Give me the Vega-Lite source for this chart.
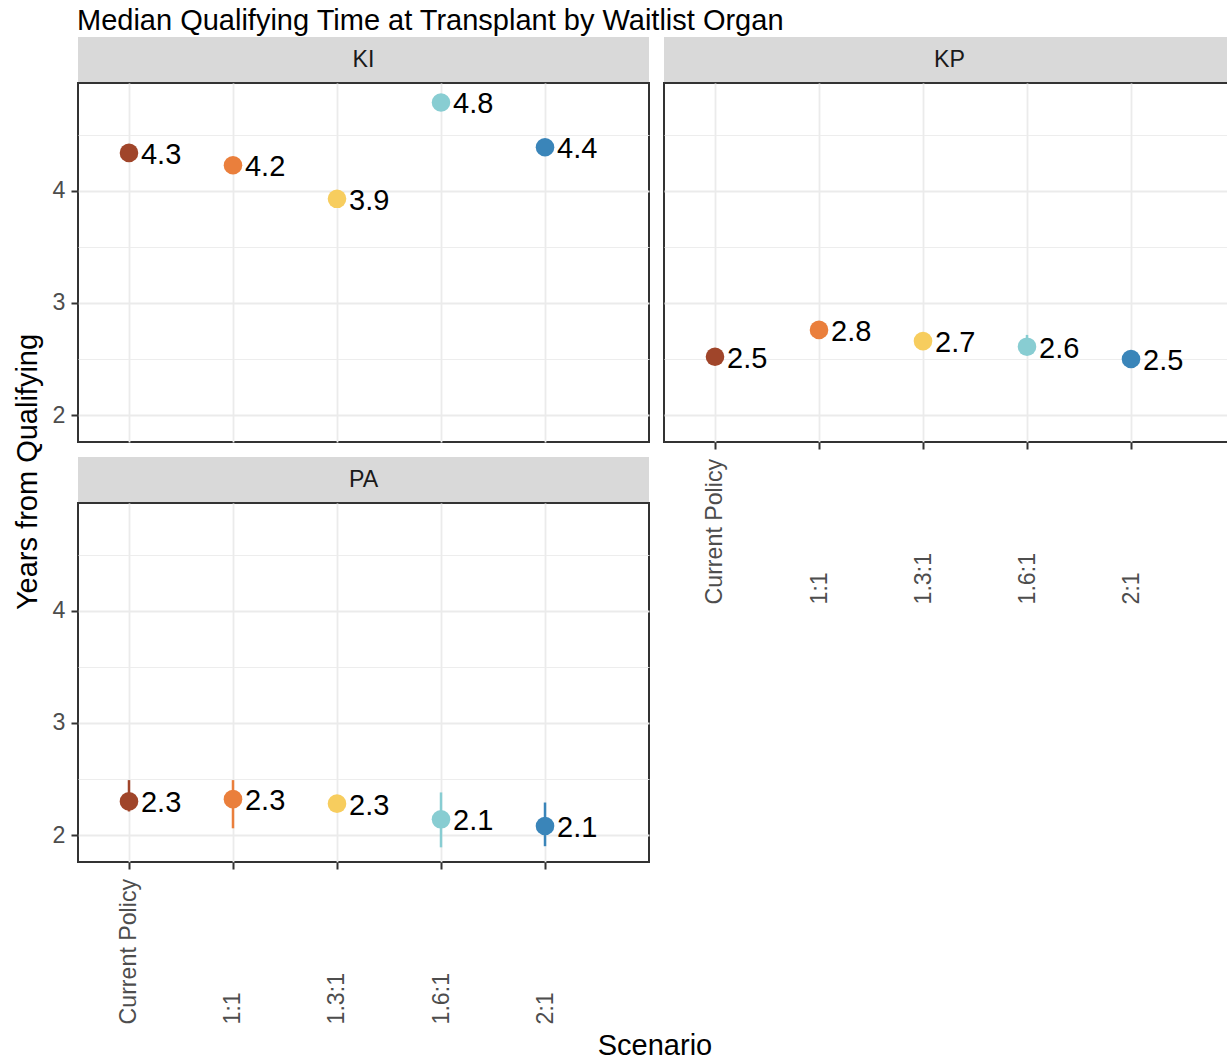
{
  "$schema": "https://vega.github.io/schema/vega-lite/v6.json",
  "background": "white",
  "padding": {"left": 13, "top": 7, "right": 0, "bottom": 0},
  "title": {"text": "Median Qualifying Time at Transplant by Waitlist Organ", "anchor": "start", "frame": "bounds", "dx": 64, "fontSize": 29, "font": "Liberation Sans", "fontWeight": "normal", "color": "black", "offset": 1},
  "datasets": {
    "points": [
      {"organ": "KI", "scenario": "Current Policy", "median": 4.34, "lower": 4.31, "upper": 4.37},
      {"organ": "KI", "scenario": "1:1", "median": 4.23, "lower": 4.20, "upper": 4.26},
      {"organ": "KI", "scenario": "1.3:1", "median": 3.93, "lower": 3.90, "upper": 3.96},
      {"organ": "KI", "scenario": "1.6:1", "median": 4.79, "lower": 4.76, "upper": 4.82},
      {"organ": "KI", "scenario": "2:1", "median": 4.39, "lower": 4.36, "upper": 4.42},
      {"organ": "KP", "scenario": "Current Policy", "median": 2.52, "lower": 2.48, "upper": 2.56},
      {"organ": "KP", "scenario": "1:1", "median": 2.76, "lower": 2.72, "upper": 2.80},
      {"organ": "KP", "scenario": "1.3:1", "median": 2.66, "lower": 2.62, "upper": 2.70},
      {"organ": "KP", "scenario": "1.6:1", "median": 2.61, "lower": 2.55, "upper": 2.715},
      {"organ": "KP", "scenario": "2:1", "median": 2.50, "lower": 2.46, "upper": 2.54},
      {"organ": "PA", "scenario": "Current Policy", "median": 2.30, "lower": 2.21, "upper": 2.49},
      {"organ": "PA", "scenario": "1:1", "median": 2.32, "lower": 2.06, "upper": 2.49},
      {"organ": "PA", "scenario": "1.3:1", "median": 2.28, "lower": 2.22, "upper": 2.34},
      {"organ": "PA", "scenario": "1.6:1", "median": 2.14, "lower": 1.89, "upper": 2.38},
      {"organ": "PA", "scenario": "2:1", "median": 2.08, "lower": 1.90, "upper": 2.29}
    ]
  },
  "concat": [
    {
      "width": 30, "height": 870,
      "data": {"values": [{"t": "Years from Qualifying"}]},
      "view": {"stroke": null},
      "mark": {"type": "text", "angle": 270, "fontSize": 29, "color": "black", "font": "Liberation Sans"},
      "encoding": {"text": {"field": "t", "type": "nominal"}}
    },
    {
      "concat": [
        {
          "concat": [
            {
              "concat": [
                {
                  "concat": [
                    {
                      "width": 571, "height": 45,
                      "data": {"values": [{"organ": "KI"}]},
                      "view": {"fill": "#D9D9D9"},
                      "mark": {"type": "text", "fontSize": 23.2, "color": "#1A1A1A", "font": "Liberation Sans"},
                      "encoding": {"text": {"field": "organ", "type": "nominal"}}
                    },
                    {
                      "width": 571, "height": 359,
                      "data": {"name": "points"},
                      "transform": [{"filter": "datum.organ === 'KI'"}],
                      "encoding": {
                        "x": {"field": "scenario", "type": "nominal",
                          "scale": {"type": "point", "domain": ["Current Policy", "1:1", "1.3:1", "1.6:1", "2:1"], "padding": 0.745, "align": 0.329},
                          "axis": {"title": null, "labels": false, "ticks": false, "grid": true}},
                        "color": {"field": "scenario", "type": "nominal",
                          "scale": {"domain": ["Current Policy", "1:1", "1.3:1", "1.6:1", "2:1"], "range": ["#A0452A", "#EA7F3C", "#F7CD5E", "#88CDD2", "#3A85B9"]},
                          "legend": null}
                      },
                      "layer": [
                        {"mark": {"type": "rule", "strokeWidth": 2.5},
                          "encoding": {
                            "y": {"field": "lower", "type": "quantitative",
                              "scale": {"domain": [1.759, 4.964], "nice": false, "zero": false},
                              "axis": {"title": null, "values": [2, 2.5, 3, 3.5, 4, 4.5],
                                "labelExpr": "datum.value % 1 === 0 ? format(datum.value, 'd') : ''",
                                "tickOpacity": {"condition": {"test": "datum.value % 1 !== 0", "value": 0}, "value": 1},
                                "gridWidth": {"condition": {"test": "datum.value % 1 !== 0", "value": 0.9}, "value": 1.8},
                                "labelPadding": 6}},
                            "y2": {"field": "upper"}}},
                        {"mark": {"type": "circle", "size": 346, "opacity": 1},
                          "encoding": {"y": {"field": "median", "type": "quantitative"}}},
                        {"mark": {"type": "text", "align": "left", "baseline": "middle", "dx": 12, "dy": 2, "fontSize": 29, "font": "Liberation Sans", "color": "black"},
                          "encoding": {"y": {"field": "median", "type": "quantitative"},
                            "text": {"field": "median", "type": "quantitative", "format": ".1f"},
                            "color": {"value": "black"}}}
                      ]
                    }
                  ],
                  "columns": 1, "spacing": 0, "align": {"column": "each", "row": "none"}
                },
                {
                  "concat": [
                    {
                      "width": 571, "height": 45,
                      "data": {"values": [{"organ": "PA"}]},
                      "view": {"fill": "#D9D9D9"},
                      "mark": {"type": "text", "fontSize": 23.2, "color": "#1A1A1A", "font": "Liberation Sans"},
                      "encoding": {"text": {"field": "organ", "type": "nominal"}}
                    },
                    {
                      "width": 571, "height": 359,
                      "data": {"name": "points"},
                      "transform": [{"filter": "datum.organ === 'PA'"}],
                      "encoding": {
                        "x": {"field": "scenario", "type": "nominal",
                          "scale": {"type": "point", "domain": ["Current Policy", "1:1", "1.3:1", "1.6:1", "2:1"], "padding": 0.745, "align": 0.329},
                          "axis": {"title": null, "grid": true, "ticks": true, "labelAngle": 270, "labelAlign": "left", "labelBaseline": "middle", "labelPadding": 155}},
                        "color": {"field": "scenario", "type": "nominal",
                          "scale": {"domain": ["Current Policy", "1:1", "1.3:1", "1.6:1", "2:1"], "range": ["#A0452A", "#EA7F3C", "#F7CD5E", "#88CDD2", "#3A85B9"]},
                          "legend": null}
                      },
                      "layer": [
                        {"mark": {"type": "rule", "strokeWidth": 2.5},
                          "encoding": {
                            "y": {"field": "lower", "type": "quantitative",
                              "scale": {"domain": [1.759, 4.964], "nice": false, "zero": false},
                              "axis": {"title": null, "values": [2, 2.5, 3, 3.5, 4, 4.5],
                                "labelExpr": "datum.value % 1 === 0 ? format(datum.value, 'd') : ''",
                                "tickOpacity": {"condition": {"test": "datum.value % 1 !== 0", "value": 0}, "value": 1},
                                "gridWidth": {"condition": {"test": "datum.value % 1 !== 0", "value": 0.9}, "value": 1.8},
                                "labelPadding": 6}},
                            "y2": {"field": "upper"}}},
                        {"mark": {"type": "circle", "size": 346, "opacity": 1},
                          "encoding": {"y": {"field": "median", "type": "quantitative"}}},
                        {"mark": {"type": "text", "align": "left", "baseline": "middle", "dx": 12, "dy": 2, "fontSize": 29, "font": "Liberation Sans", "color": "black"},
                          "encoding": {"y": {"field": "median", "type": "quantitative"},
                            "text": {"field": "median", "type": "quantitative", "format": ".1f"},
                            "color": {"value": "black"}}}
                      ]
                    }
                  ],
                  "columns": 1, "spacing": 0, "align": {"column": "each", "row": "none"}
                }
              ],
              "columns": 1, "spacing": 14, "align": "none"
            },
            {
              "concat": [
                {
                  "width": 564, "height": 45,
                  "data": {"values": [{"organ": "KP"}]},
                  "view": {"fill": "#D9D9D9"},
                  "mark": {"type": "text", "fontSize": 23.2, "color": "#1A1A1A", "font": "Liberation Sans", "dx": 3.5},
                  "encoding": {"text": {"field": "organ", "type": "nominal"}}
                },
                {
                  "width": 564, "height": 359,
                  "data": {"name": "points"},
                  "transform": [{"filter": "datum.organ === 'KP'"}],
                  "encoding": {
                    "x": {"field": "scenario", "type": "nominal",
                      "scale": {"type": "point", "domain": ["Current Policy", "1:1", "1.3:1", "1.6:1", "2:1"], "padding": 0.7115, "align": 0.3446},
                      "axis": {"title": null, "grid": true, "ticks": true, "labelAngle": 270, "labelAlign": "left", "labelBaseline": "middle", "labelPadding": 155}},
                    "color": {"field": "scenario", "type": "nominal",
                      "scale": {"domain": ["Current Policy", "1:1", "1.3:1", "1.6:1", "2:1"], "range": ["#A0452A", "#EA7F3C", "#F7CD5E", "#88CDD2", "#3A85B9"]},
                      "legend": null}
                  },
                  "layer": [
                    {"mark": {"type": "rule", "strokeWidth": 2.5},
                      "encoding": {
                        "y": {"field": "lower", "type": "quantitative",
                          "scale": {"domain": [1.759, 4.964], "nice": false, "zero": false},
                          "axis": {"title": null, "values": [2, 2.5, 3, 3.5, 4, 4.5], "labels": false, "ticks": false,
                            "gridWidth": {"condition": {"test": "datum.value % 1 !== 0", "value": 0.9}, "value": 1.8}}},
                        "y2": {"field": "upper"}}},
                    {"mark": {"type": "circle", "size": 346, "opacity": 1},
                      "encoding": {"y": {"field": "median", "type": "quantitative"}}},
                    {"mark": {"type": "text", "align": "left", "baseline": "middle", "dx": 12, "dy": 2, "fontSize": 29, "font": "Liberation Sans", "color": "black"},
                      "encoding": {"y": {"field": "median", "type": "quantitative"},
                        "text": {"field": "median", "type": "quantitative", "format": ".1f"},
                        "color": {"value": "black"}}}
                  ]
                }
              ],
              "columns": 1, "spacing": 0, "align": {"column": "each", "row": "none"}
            }
          ],
          "columns": 2, "spacing": 13, "align": "none"
        },
        {
          "width": 1176, "height": 37,
          "data": {"values": [{"t": "Scenario"}]},
          "view": {"stroke": null},
          "mark": {"type": "text", "fontSize": 29, "color": "black", "font": "Liberation Sans", "dx": -11, "dy": 2},
          "encoding": {"text": {"field": "t", "type": "nominal"}}
        }
      ],
      "columns": 1, "spacing": 0, "align": "none"
    }
  ],
  "columns": 2, "spacing": 8, "align": "none",
  "config": {
    "font": "Liberation Sans",
    "view": {"stroke": "#333333", "strokeWidth": 2},
    "axis": {"domain": false, "gridColor": "#EBEBEB", "gridWidth": 1.8, "tickColor": "#333333", "tickWidth": 2, "tickSize": 7, "labelColor": "#4D4D4D", "labelFont": "Liberation Sans", "labelFontSize": 23.2, "labelOverlap": false}
  }
}
